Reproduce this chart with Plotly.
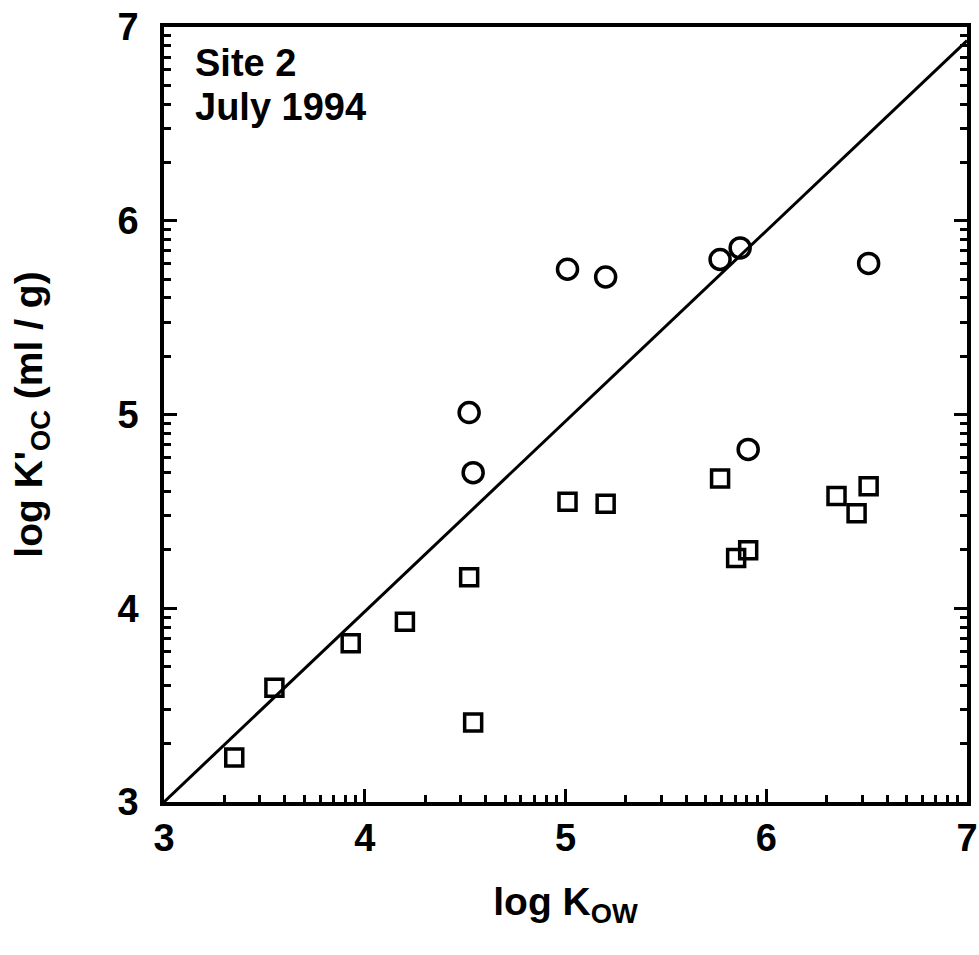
import numpy as np
import plotly.graph_objects as go

# Circles (first series)
circle_x = [4.52, 4.54, 5.01, 5.20, 5.77, 5.87, 6.51, 5.91]
circle_y = [5.01, 4.70, 5.75, 5.71, 5.80, 5.86, 5.78, 4.82]

# Squares (second series)
square_x = [3.35, 3.55, 3.93, 4.20, 4.52, 4.54, 5.01, 5.20, 5.77, 5.85, 5.91, 6.35, 6.45, 6.51]
square_y = [3.23, 3.59, 3.82, 3.93, 4.16, 3.41, 4.55, 4.54, 4.67, 4.26, 4.30, 4.58, 4.49, 4.63]

# Reference line
line_x = [3.0, 7.0]
line_y = [3.0, 6.93]

tick_vals = [3, 4, 5, 6, 7]
tick_text = ["3", "4", "5", "6", "7"]

minor_vals = [d + np.log10(k) for d in range(3, 7) for k in range(2, 10)]

FONT = "Liberation Sans"

fig = go.Figure()
fig.add_trace(go.Scatter(x=line_x, y=line_y, mode="lines",
                         line=dict(color="black", width=3), showlegend=False))
fig.add_trace(go.Scatter(x=circle_x, y=circle_y, mode="markers",
                         marker=dict(symbol="circle-open", size=20, color="black",
                                     line=dict(width=3.5, color="black")),
                         showlegend=False))
fig.add_trace(go.Scatter(x=square_x, y=square_y, mode="markers",
                         marker=dict(symbol="square-open", size=17, color="black",
                                     line=dict(width=3.5, color="black")),
                         showlegend=False))

axis_common = dict(
    range=[3, 7], showgrid=False, zeroline=False, automargin=False,
    showline=True, linecolor="black", linewidth=3.5,
    ticks="inside", ticklen=13, tickwidth=3, tickcolor="black",
    tickvals=tick_vals, ticktext=tick_text,
    tickfont=dict(family=FONT, size=38, color="black", weight="bold"),
    minor=dict(tickmode="array", tickvals=minor_vals, ticks="inside",
               ticklen=7, tickwidth=2.5, tickcolor="black", showgrid=False),
)

fig.update_layout(
    width=979, height=955,
    margin=dict(l=164, r=12, t=27, b=153),
    paper_bgcolor="white", plot_bgcolor="white",
    xaxis=dict(**axis_common, mirror=True,
               ticklabelstandoff=0,
               title=dict(text="log K<sub>OW</sub>", standoff=30,
                          font=dict(family=FONT, size=39, color="black", weight="bold"))),
    yaxis=dict(**axis_common, mirror="ticks",
               ticklabelstandoff=14,
               title=dict(text="log K'<sub>OC</sub> (ml / g)", standoff=64,
                          font=dict(family=FONT, size=39, color="black", weight="bold"))),
    annotations=[
        dict(text="Site 2", xref="paper", yref="paper", x=0.036, y=0.9535,
             xanchor="left", yanchor="middle", showarrow=False,
             font=dict(family=FONT, size=38, color="black", weight="bold")),
        dict(text="July 1994", xref="paper", yref="paper", x=0.036, y=0.897,
             xanchor="left", yanchor="middle", showarrow=False,
             font=dict(family=FONT, size=38, color="black", weight="bold")),
    ],
)

fig.write_html("out.html")
